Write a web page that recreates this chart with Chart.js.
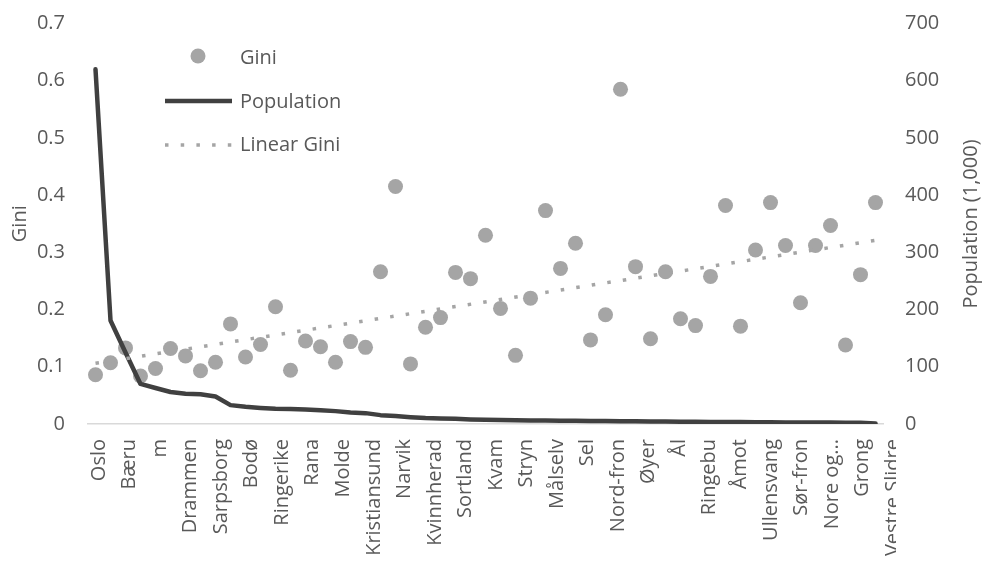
<!DOCTYPE html>
<html>
<head>
<meta charset="utf-8">
<script src="https://cdn.jsdelivr.net/npm/chart.js@4/dist/chart.umd.min.js"></script>
<style>
  html, body { margin: 0; padding: 0; background: #ffffff; }
  #wrap { width: 986px; height: 561px; }
</style>
</head>
<body>
<div id="wrap"><canvas id="chart" width="986" height="561"></canvas></div>
<script>
// Municipalities ordered by population; every second one carries a tick label
const tickLabels = [
  'Oslo', 'Bæru', 'm', 'Drammen', 'Sarpsborg', 'Bodø', 'Ringerike', 'Rana',
  'Molde', 'Kristiansund', 'Narvik', 'Kvinnherad', 'Sortland', 'Kvam', 'Stryn',
  'Målselv', 'Sel', 'Nord-fron', 'Øyer', 'Ål', 'Ringebu', 'Åmot', 'Ullensvang',
  'Sør-fron', 'Nore og...', 'Grong', 'Vestre Slidre'
];

// Gini coefficient per municipality
const gini = [
  0.086, 0.107, 0.133, 0.084, 0.097, 0.132, 0.119, 0.093, 0.108, 0.175,
  0.117, 0.139, 0.205, 0.094, 0.145, 0.135, 0.108, 0.144, 0.134, 0.266,
  0.415, 0.105, 0.169, 0.186, 0.265, 0.254, 0.330, 0.202, 0.120, 0.220,
  0.373, 0.272, 0.316, 0.147, 0.191, 0.585, 0.275, 0.149, 0.266, 0.184,
  0.172, 0.258, 0.382, 0.171, 0.304, 0.387, 0.312, 0.212, 0.312, 0.347,
  0.138, 0.261, 0.387
];

// Population in thousands
const population = [
  620, 181, 125, 70, 63, 56, 53, 52, 48, 33,
  30, 28, 26.5, 26, 25.5, 24, 22.5, 20, 19, 15.5,
  14, 12, 10.5, 9.8, 9, 8, 7.5, 7, 6.5, 6.2,
  6, 5.7, 5.5, 5.3, 5.1, 4.9, 4.7, 4.5, 4.3, 4.1,
  3.9, 3.7, 3.5, 3.3, 3.1, 2.9, 2.8, 2.7, 2.6, 2.5,
  2.3, 2.0, 1.0
];

// Linear trend of the Gini values: value at the first and at the last municipality
const trendGini = [0.106, 0.321];

const TEXT = '#595959';
const FONT = '"Open Sans", "Liberation Sans", sans-serif';
const GINI_COLOR = '#A5A5A5';
const POP_COLOR = '#404040';

const last = gini.length - 1;
const giniPoints = gini.map((g, i) => ({ x: i, y: g }));
const popPoints = population.map((p, i) => ({ x: i, y: p }));
const trendPoints = [{ x: 0, y: trendGini[0] }, { x: last, y: trendGini[1] }];
const labelTicks = tickLabels.map((_, k) => k * 2);

// Vertical axes: fixed width, no extra room above/below the plot
function fixVertical(width) {
  return (scale) => {
    scale.width = width;
    scale.paddingTop = 0;
    scale.paddingBottom = 0;
  };
}

// Legend, right-hand title and the clipped edge of the category labels
const extras = {
  id: 'extras',
  afterDraw(chart) {
    const ctx = chart.ctx;
    ctx.save();

    // category labels stop at the edge of the plot frame
    ctx.fillStyle = '#ffffff';
    ctx.fillRect(896, 432, 90, 129);

    ctx.fillStyle = TEXT;
    ctx.font = '20px ' + FONT;
    ctx.textAlign = 'left';
    ctx.textBaseline = 'alphabetic';

    // Gini marker
    ctx.beginPath();
    ctx.fillStyle = GINI_COLOR;
    ctx.arc(198, 56, 7.5, 0, Math.PI * 2);
    ctx.fill();
    ctx.fillStyle = TEXT;
    ctx.fillText(chart.data.datasets[0].label, 240, 64);

    // Population line
    ctx.beginPath();
    ctx.strokeStyle = POP_COLOR;
    ctx.lineWidth = 4.5;
    ctx.moveTo(165, 101);
    ctx.lineTo(232, 101);
    ctx.stroke();
    ctx.fillText(chart.data.datasets[1].label, 240, 108);

    // Linear trend
    ctx.beginPath();
    ctx.strokeStyle = GINI_COLOR;
    ctx.lineWidth = 3.5;
    ctx.setLineDash([3.5, 12.2]);
    ctx.moveTo(165, 145);
    ctx.lineTo(235, 145);
    ctx.stroke();
    ctx.setLineDash([]);
    ctx.fillText(chart.data.datasets[2].label, 240, 151);

    // Right axis title, reading upwards
    ctx.translate(971, 224);
    ctx.rotate(-Math.PI / 2);
    ctx.textAlign = 'center';
    ctx.textBaseline = 'middle';
    ctx.fillText('Population (1,000)', 0, 0);
    ctx.restore();
  }
};

new Chart(document.getElementById('chart'), {
  data: {
    datasets: [
      {
        type: 'scatter',
        label: 'Gini',
        data: giniPoints,
        yAxisID: 'y',
        xAxisID: 'x',
        pointRadius: 7.5,
        pointHoverRadius: 7.5,
        pointBackgroundColor: GINI_COLOR,
        pointBorderWidth: 0,
        showLine: false,
        order: 3
      },
      {
        type: 'line',
        label: 'Population',
        data: popPoints,
        yAxisID: 'y2',
        xAxisID: 'x',
        borderColor: POP_COLOR,
        borderWidth: 4.5,
        borderCapStyle: 'round',
        borderJoinStyle: 'round',
        pointRadius: 0,
        tension: 0,
        fill: false,
        order: 2
      },
      {
        type: 'line',
        label: 'Linear Gini',
        data: trendPoints,
        yAxisID: 'y',
        xAxisID: 'x',
        borderColor: GINI_COLOR,
        borderWidth: 3.5,
        borderDash: [3.5, 12.2],
        pointRadius: 0,
        tension: 0,
        fill: false,
        order: 1
      }
    ]
  },
  options: {
    responsive: false,
    animation: false,
    devicePixelRatio: 1,
    layout: { padding: { top: 23.5, left: 0, right: 0, bottom: 0 } },
    plugins: {
      legend: { display: false },
      tooltip: { enabled: false }
    },
    scales: {
      x: {
        type: 'linear',
        position: 'bottom',
        weight: 0,
        min: -0.5,
        max: last + 0.5,
        grid: { display: false, drawTicks: false },
        border: { display: true, color: '#D9D9D9', width: 1.5 },
        ticks: { display: false },
        afterFit(scale) { scale.height = 0; }
      },
      xl: {
        type: 'linear',
        position: 'bottom',
        weight: 1,
        min: -0.72,
        max: 51.345,
        grid: { display: false, drawTicks: false },
        border: { display: false },
        afterBuildTicks(scale) {
          scale.ticks = labelTicks.map(v => ({ value: v }));
        },
        ticks: {
          autoSkip: false,
          minRotation: 90,
          maxRotation: 90,
          padding: 15,
          color: TEXT,
          font: { family: FONT, size: 20 },
          callback: (v) => tickLabels[Math.round(v / 2)]
        },
        afterFit(scale) { scale.height = 137; }
      },
      y: {
        position: 'left',
        min: 0,
        max: 0.7,
        grid: { display: false, drawTicks: false },
        border: { display: false },
        ticks: {
          stepSize: 0.1,
          padding: 23,
          color: TEXT,
          font: { family: FONT, size: 20 },
          callback: (v) => (Math.round(v * 10) / 10).toString()
        },
        title: {
          display: true,
          text: 'Gini',
          color: TEXT,
          font: { family: FONT, size: 20 },
          padding: { top: 8, bottom: 0 }
        },
        afterFit: fixVertical(88)
      },
      y2: {
        position: 'right',
        min: 0,
        max: 700,
        grid: { display: false, drawTicks: false },
        border: { display: false },
        ticks: {
          stepSize: 100,
          padding: 22,
          color: TEXT,
          font: { family: FONT, size: 20 }
        },
        afterFit: fixVertical(103)
      }
    }
  },
  plugins: [extras]
});
</script>
</body>
</html>
